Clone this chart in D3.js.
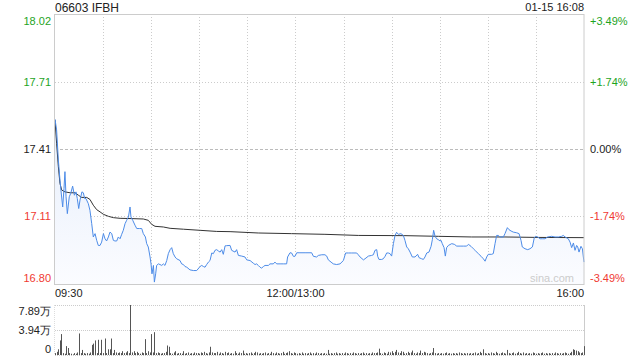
<!DOCTYPE html>
<html><head><meta charset="utf-8">
<script src="https://cdn.jsdelivr.net/npm/d3@7"></script>
<style>body{margin:0;background:#fff}svg{display:block}text{font-family:"Liberation Sans",Arial,sans-serif}</style>
</head><body><svg id="c" width="640" height="360"></svg>
<script>
const title = "06603 IFBH";
const stamp = "01-15 16:08";
const prevClose = 17.41;
const maxPct = 3.49;
const pctTicks = [3.49, 1.74, 0, -1.74, -3.49];
const priceTickLabels = ["18.02","17.71","17.41","17.11","16.80"];
const pctTickLabels = ["+3.49%","+1.74%","0.00%","-1.74%","-3.49%"];
const timeTicks = [0, 150, 330];
const timeTickLabels = ["09:30","12:00/13:00","16:00"];
const volMax = 7.89;
const volTicks = [7.89, 3.94, 0];
const volTickLabels = ["7.89万","3.94万","0"];
// [minute since 09:30 (trading minutes), price]
const priceSeries = [[0,17.544],[1.0,17.496],[2.1,17.360],[3.1,17.270],[3.7,17.225],[4.8,17.149],[5.6,17.232],[6.2,17.308],[6.9,17.195],[7.7,17.119],[8.9,17.195],[9.8,17.210],[11.0,17.243],[12.1,17.202],[13.1,17.217],[13.9,17.187],[14.8,17.142],[15.6,17.180],[16.8,17.217],[17.7,17.213],[18.5,17.187],[19.3,17.187],[20.8,17.164],[21.8,17.134],[22.9,17.074],[23.9,17.014],[25.0,17.029],[26.0,16.999],[27.0,16.976],[28.1,16.976],[29.1,16.991],[30.2,17.029],[31.2,17.006],[32.2,16.996],[33.3,17.014],[34.3,17.036],[35.4,17.029],[36.4,16.999],[37.4,16.996],[38.5,16.996],[39.5,17.014],[40.6,17.006],[41.6,17.026],[42.6,17.044],[43.7,17.074],[44.7,17.089],[45.8,17.104],[46.8,17.149],[47.4,17.104],[48.5,17.089],[49.9,17.067],[51.0,17.052],[52.6,17.052],[54.1,17.052],[55.1,17.029],[56.4,17.014],[57.2,16.984],[58.2,16.969],[59.3,16.924],[59.9,16.893],[60.5,16.848],[61.4,16.886],[62.0,16.811],[62.8,16.848],[63.4,16.886],[64.5,16.893],[65.5,16.890],[66.6,16.886],[67.6,16.893],[68.6,16.886],[69.7,16.908],[70.7,16.939],[71.8,16.957],[72.8,16.966],[73.8,16.939],[74.9,16.924],[75.9,16.916],[78.0,16.908],[79.0,16.893],[80.1,16.890],[81.1,16.881],[82.2,16.878],[84.2,16.866],[86.3,16.863],[88.4,16.863],[90.5,16.881],[91.5,16.886],[92.6,16.881],[93.6,16.878],[94.6,16.890],[95.7,16.901],[96.7,16.908],[97.8,16.942],[98.8,16.939],[99.8,16.954],[100.9,16.957],[101.9,16.951],[103.0,16.946],[104.0,16.957],[105.0,16.936],[106.1,16.974],[107.1,16.975],[109.2,16.976],[110.2,16.954],[112.3,16.946],[113.3,16.957],[114.4,16.931],[116.5,16.928],[118.5,16.924],[119.6,16.911],[121.7,16.908],[123.7,16.896],[124.8,16.890],[125.8,16.893],[126.8,16.886],[127.9,16.878],[128.9,16.874],[130.0,16.881],[131.0,16.886],[133.1,16.886],[134.1,16.893],[136.2,16.893],[137.2,16.901],[138.3,16.893],[140.4,16.893],[142.4,16.893],[144.5,16.893],[145.1,16.924],[146.6,16.943],[147.6,16.942],[148.7,16.927],[149.7,16.927],[150.8,16.943],[152.8,16.943],[156.0,16.943],[160.1,16.943],[161.2,16.927],[163.2,16.924],[164.3,16.931],[166.4,16.934],[168.4,16.934],[169.5,16.928],[170.5,16.911],[172.2,16.901],[173.6,16.893],[175.7,16.890],[177.8,16.893],[179.9,16.908],[181.3,16.942],[183.0,16.942],[185.1,16.942],[188.2,16.942],[189.2,16.934],[190.3,16.924],[192.4,16.911],[193.4,16.916],[195.5,16.928],[197.5,16.931],[198.6,16.934],[199.6,16.954],[200.7,16.957],[201.3,16.927],[202.1,16.913],[203.8,16.913],[204.8,16.916],[205.9,16.927],[206.9,16.942],[207.9,16.942],[209.0,16.939],[210.0,16.928],[211.1,16.984],[212.1,17.021],[213.1,17.035],[214.2,17.026],[215.8,17.029],[217.3,17.021],[218.3,16.999],[219.4,16.969],[220.4,16.961],[221.5,16.946],[222.9,16.924],[224.6,16.924],[226.2,16.936],[227.1,16.921],[228.7,16.916],[229.8,16.913],[230.8,16.924],[231.9,16.942],[233.3,16.946],[234.6,16.972],[235.4,17.002],[236.2,17.044],[237.1,17.017],[238.1,17.006],[239.1,17.002],[240.2,16.996],[240.8,16.999],[241.6,16.984],[242.7,16.966],[243.5,16.928],[244.3,16.966],[245.4,16.976],[247.5,16.984],[249.1,16.981],[250.6,16.973],[252.7,16.973],[254.7,16.973],[256.8,16.973],[257.9,16.981],[259.5,16.972],[261.0,16.961],[262.4,16.951],[264.1,16.939],[265.8,16.927],[267.2,16.916],[268.3,16.905],[269.3,16.924],[270.3,16.936],[272.4,16.936],[273.4,16.939],[274.5,16.984],[275.5,17.021],[276.6,17.021],[277.6,17.014],[279.7,17.014],[280.7,17.029],[282.2,17.056],[283.2,17.047],[284.5,17.041],[285.9,17.036],[288.0,17.033],[289.5,17.029],[290.7,16.999],[291.5,16.969],[293.2,16.961],[294.9,16.957],[296.3,16.961],[297.8,16.969],[299.0,17.011],[299.9,17.017],[301.1,17.014],[302.6,17.006],[304.0,17.006],[305.7,17.006],[307.3,17.014],[309.8,17.017],[311.9,17.014],[314.0,17.014],[316.1,17.017],[317.1,17.021],[318.2,17.014],[320.2,17.006],[321.3,16.991],[322.3,16.966],[323.4,16.987],[324.4,16.954],[325.4,16.976],[326.1,16.969],[326.9,16.946],[328.1,16.972],[329.0,16.961],[329.6,16.924],[330,16.901]];
const avgSeries = [[0,17.541],[1.0,17.436],[2.1,17.330],[3.1,17.255],[4.2,17.225],[6.2,17.217],[9.4,17.213],[12.5,17.213],[14.6,17.202],[16.6,17.192],[19.8,17.192],[21.8,17.183],[23.9,17.157],[26.0,17.137],[28.1,17.127],[30.2,17.116],[33.3,17.107],[36.4,17.101],[40.6,17.098],[46.8,17.097],[55.1,17.095],[58.2,17.089],[60.3,17.071],[62.4,17.062],[67.6,17.059],[71.8,17.053],[80.1,17.049],[90.5,17.044],[100.9,17.039],[109.2,17.038],[126.8,17.032],[147.6,17.029],[168.4,17.026],[189.2,17.021],[218.3,17.020],[239.1,17.017],[259.9,17.014],[280.7,17.014],[301.5,17.012],[330,17.011]];
// volume per minute, in 万 shares
const volumes = [
0.3,0.5,0.9,2.3,3.3,0.3,0.2,1.4,1.1,0.3,
0.2,0.1,0.3,0.2,0.4,3.4,0.3,0.8,0.3,0.2,
0.3,0.2,0.4,1.6,1.8,2.3,0.3,2.4,0.3,2.4,
0.3,2.6,0.3,0.9,0.9,2.6,0.3,0.8,0.4,0.3,
0.4,0.3,0.6,0.3,0.4,0.6,0.3,7.89,0.4,0.6,
0.3,0.5,0.3,0.2,0.4,0.3,2.5,0.3,0.6,0.4,
3.3,0.4,3.6,0.3,0.4,0.3,0.2,0.3,0.3,0.5,
1.5,1.3,0.3,0.2,0.4,0.6,0.2,0.3,0.3,0.2,
0.6,0.2,0.3,0.4,0.2,0.3,0.2,0.4,0.3,0.3,
0.2,0.4,0.3,0.5,0.3,0.2,0.4,1.3,0.4,0.3,
0.3,0.5,0.2,0.4,0.3,0.2,0.5,0.3,0.4,0.2,
0.3,0.2,0.6,0.3,0.2,0.4,0.3,0.7,0.2,0.3,
0.2,0.3,0.4,0.2,0.3,0.5,0.4,0.2,0.3,0.2,
0.3,0.4,0.2,0.3,0.2,0.5,0.3,0.2,0.4,0.3,
0.2,0.3,0.5,0.2,0.3,0.4,0.6,0.3,0.2,0.4,
0.3,0.2,0.3,0.2,0.4,0.2,0.3,0.2,0.3,0.4,
0.2,0.3,0.2,0.4,0.3,0.2,0.3,0.2,0.3,0.2,
0.8,0.2,0.3,0.2,0.3,0.4,0.2,0.3,0.2,0.3,
0.2,0.4,0.3,0.2,0.3,0.2,0.4,0.3,0.2,0.3,
0.2,0.3,0.4,0.2,0.3,0.2,0.3,0.2,0.4,0.3,
0.3,0.4,1.0,0.3,0.2,0.4,0.3,0.2,0.5,0.4,
0.6,0.3,0.5,0.8,0.4,0.3,0.6,0.5,0.2,0.3,
0.5,0.3,0.4,0.7,0.3,0.2,0.4,0.3,0.7,0.3,
0.5,0.4,0.3,0.2,0.3,0.4,1.1,0.3,0.2,0.3,
0.2,0.3,0.2,0.3,0.4,0.2,0.3,0.2,0.3,0.2,
0.3,0.2,0.4,0.3,0.2,0.3,0.2,0.3,0.2,0.3,
0.2,0.3,0.4,0.2,0.3,0.5,0.3,0.9,0.3,0.2,
0.3,0.2,0.4,0.3,0.2,0.5,0.3,0.2,0.3,0.4,
0.3,0.2,0.8,0.3,0.2,0.3,0.4,0.2,0.3,0.5,
0.3,0.2,0.4,0.2,0.3,0.2,0.3,0.2,0.4,0.3,
0.2,0.3,0.2,0.3,0.4,0.2,0.3,0.2,0.3,0.2,
0.3,0.2,0.4,0.3,0.2,0.3,0.2,0.3,0.4,0.3,
0.2,0.3,0.5,0.9,0.8,0.7,0.6,0.4,0.3,0.4,
1.4];

const svg = d3.select("#c");
const L = 55, R = 584, T = 14, B = 284, VT = 305, VB = 355;
const green = "#1ea41e", red = "#f03a32", dark = "#222";
const x = d3.scaleLinear().domain([0, 330]).range([L, R]);
const y = d3.scaleLinear().domain([prevClose*(1-maxPct/100), prevClose*(1+maxPct/100)]).range([B, T]);
const yv = d3.scaleLinear().domain([0, volMax]).range([VB, VT]);
const tickColor = p => p > 0 ? green : (p < 0 ? red : dark);

// header
svg.append("text").attr("x", L).attr("y", 12).attr("font-size", 12).attr("fill", "#222").text(title);
svg.append("text").attr("x", R).attr("y", 11).attr("font-size", 11).attr("text-anchor", "end").attr("fill", "#222").text(stamp);

// gradient
const defs = svg.append("defs");
const g = defs.append("linearGradient").attr("id", "fillg").attr("x1", 0).attr("y1", 0).attr("x2", 0).attr("y2", 1);
g.append("stop").attr("offset", "0%").attr("stop-color", "#e6eefb");
g.append("stop").attr("offset", "100%").attr("stop-color", "#fbfcff");

// vertical grid
const vgrid = d3.range(30, 330, 30);
svg.append("g").selectAll("line").data(vgrid).join("line")
  .attr("x1", d => Math.round(x(d)) + 0.5).attr("x2", d => Math.round(x(d)) + 0.5)
  .attr("y1", T).attr("y2", B).attr("stroke", "#ccc").attr("stroke-dasharray", "1,2");

// horizontal grid
svg.append("g").selectAll("line").data(pctTicks.slice(1, -1)).join("line")
  .attr("x1", L).attr("x2", R)
  .attr("y1", d => Math.round(y(prevClose*(1+d/100))) + 0.5)
  .attr("y2", d => Math.round(y(prevClose*(1+d/100))) + 0.5)
  .attr("stroke", d => d === 0 ? "#bbb" : "#ccc")
  .attr("stroke-dasharray", d => d === 0 ? "3,2" : "1,2");

// area + lines
const area = d3.area().x(d => x(d[0])).y0(B).y1(d => y(d[1]));
svg.append("path").datum(priceSeries).attr("d", area).attr("fill", "url(#fillg)");
const line = d3.line().x(d => x(d[0])).y(d => y(d[1]));
svg.append("path").datum(avgSeries).attr("d", line).attr("fill", "none").attr("stroke", "#333").attr("stroke-width", 1);
svg.append("path").datum(priceSeries).attr("d", line).attr("fill", "none").attr("stroke", "#4d8ce8").attr("stroke-width", 1);

// border
svg.append("rect").attr("x", L - 0.5).attr("y", T + 0.5).attr("width", R - L + 0.5).attr("height", B - T)
  .attr("fill", "none").attr("stroke", "#ccc");

// watermark
svg.append("text").attr("x", 574).attr("y", 282).attr("font-size", 11).attr("text-anchor", "end").attr("fill", "#ccc").text("sina.com");

// price axis labels
const n = pctTicks.length;
const shift = i => i === 0 ? 6.5 : (i === n - 1 ? -6.5 : 0);
svg.append("g").selectAll("text").data(pctTicks).join("text")
  .attr("x", 51).attr("y", (d, i) => y(prevClose*(1+d/100)) + 4 + shift(i))
  .attr("text-anchor", "end").attr("font-size", 11).attr("fill", d => tickColor(d))
  .text((d, i) => priceTickLabels[i]);
svg.append("g").selectAll("text").data(pctTicks).join("text")
  .attr("x", 590).attr("y", (d, i) => y(prevClose*(1+d/100)) + 4 + shift(i))
  .attr("text-anchor", "start").attr("font-size", 11).attr("fill", d => tickColor(d))
  .text((d, i) => pctTickLabels[i]);

// time labels
svg.append("g").selectAll("text").data(timeTicks).join("text")
  .attr("x", d => x(d)).attr("y", 297).attr("font-size", 11).attr("fill", "#222")
  .attr("text-anchor", (d, i) => i === 0 ? "start" : (i === timeTicks.length - 1 ? "end" : "middle"))
  .text((d, i) => timeTickLabels[i]);

// volume panel
svg.append("g").selectAll("line").data(volTicks).join("line")
  .attr("x1", L).attr("x2", R)
  .attr("y1", d => Math.round(yv(d)) + 0.5).attr("y2", d => Math.round(yv(d)) + 0.5)
  .attr("stroke", "#ccc").attr("stroke-dasharray", "1,1");
svg.append("line").attr("x1", L - 0.5).attr("x2", L - 0.5).attr("y1", VT).attr("y2", VB).attr("stroke", "#ddd").attr("stroke-dasharray", "1,1");
svg.append("line").attr("x1", R + 0.5).attr("x2", R + 0.5).attr("y1", VT).attr("y2", VB + 0.5).attr("stroke", "#ccc");
svg.append("g").selectAll("line").data(volumes).join("line")
  .attr("x1", (d, i) => Math.round(x(i)) + 0.5).attr("x2", (d, i) => Math.round(x(i)) + 0.5)
  .attr("y1", VB).attr("y2", d => yv(d))
  .attr("stroke", "#555").attr("stroke-width", 1);
const vshift = i => i === 0 ? 6 : (i === volTicks.length - 1 ? -6 : 0);
svg.append("g").selectAll("text").data(volTicks).join("text")
  .attr("x", 51).attr("y", (d, i) => yv(d) + 4 + vshift(i))
  .attr("text-anchor", "end").attr("font-size", 11).attr("fill", "#222")
  .text((d, i) => volTickLabels[i]);
</script></body></html>
